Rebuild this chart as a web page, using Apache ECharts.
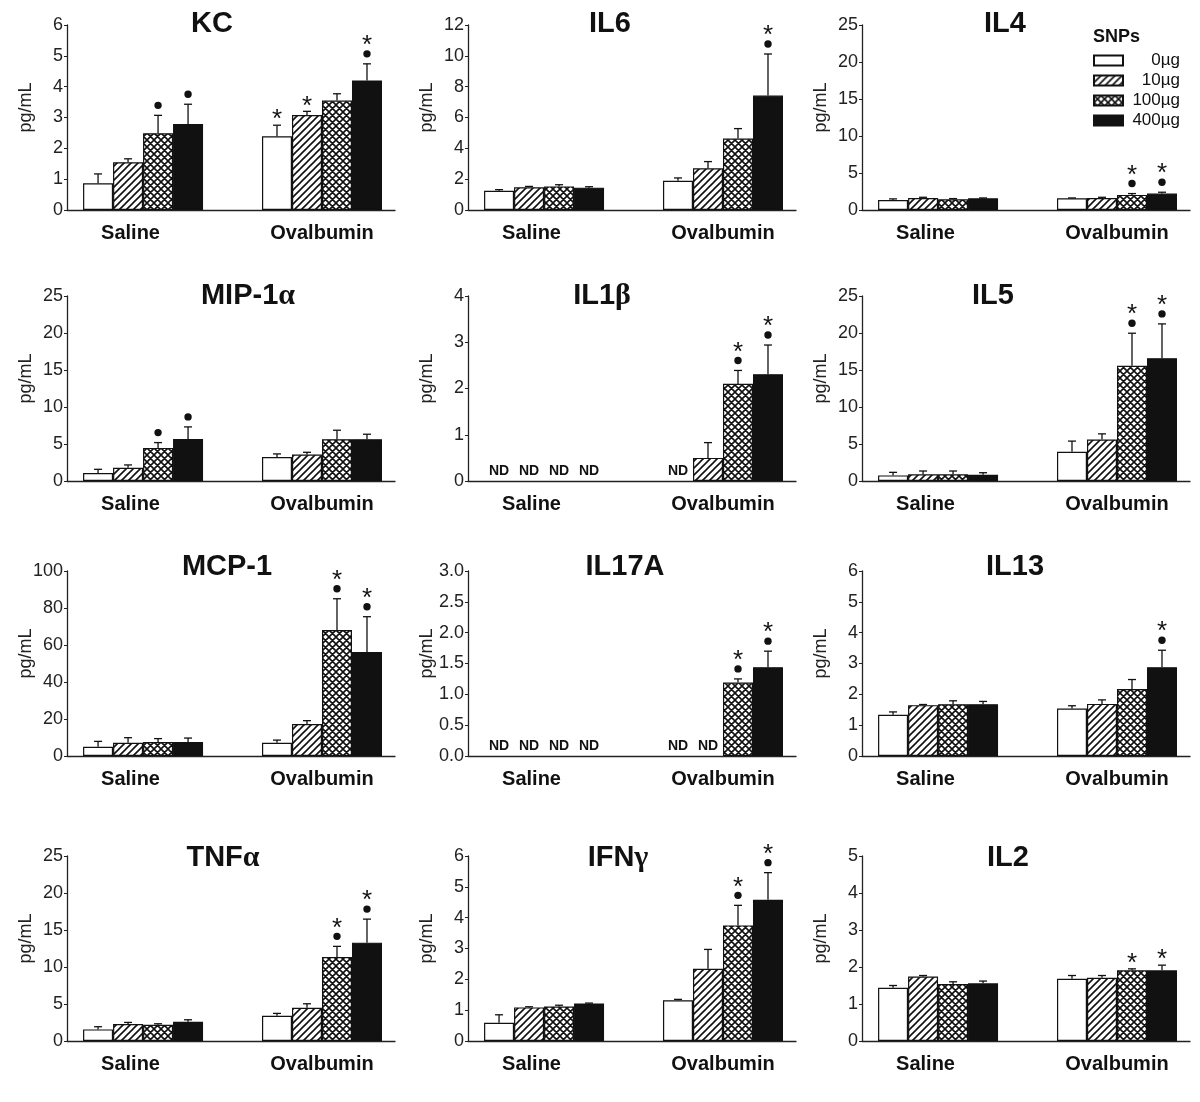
<!DOCTYPE html>
<html>
<head>
<meta charset="utf-8">
<script src="https://cdn.jsdelivr.net/npm/echarts@6/dist/echarts.min.js"></script>
<style>
  html, body { margin: 0; padding: 0; background: #fff; }
  #main { width: 1200px; height: 1102px; }
</style>
</head>
<body>
<div id="main"></div>
<script>
// ---------------- data ----------------
var groups = ['Saline', 'Ovalbumin'];
var doses = ['0µg', '10µg', '100µg', '400µg'];

var panelNames = ['KC', 'IL6', 'IL4', 'MIP-1α', 'IL1β', 'IL5', 'MCP-1', 'IL17A', 'IL13', 'TNFα', 'IFNγ', 'IL2'];
var yMax  = [6, 12, 25, 25, 4, 25, 100, 3, 6, 25, 6, 5];
var yStep = [1, 2, 5, 5, 1, 5, 20, 0.5, 1, 5, 1, 1];

// mean / SEM: saline 0,10,100,400 then ovalbumin 0,10,100,400 (null = ND)
// sig: 'd' = dot (vs saline), 's' = star (vs 0µg)
var kcMean = [0.87, 1.55, 2.49, 2.79, 2.39, 3.08, 3.55, 4.2];
var kcSem  = [0.3, 0.11, 0.58, 0.64, 0.36, 0.12, 0.22, 0.54];
var kcSig  = ['', '', 'd', 'd', 's', 's', '', 'ds'];

var il6Mean = [1.25, 1.47, 1.53, 1.45, 1.9, 2.7, 4.63, 7.42];
var il6Sem  = [0.07, 0.06, 0.11, 0.06, 0.18, 0.44, 0.65, 2.7];
var il6Sig  = ['', '', '', '', '', '', '', 'ds'];

var il4Mean = [1.36, 1.63, 1.45, 1.58, 1.58, 1.63, 2.04, 2.22];
var il4Sem  = [0.14, 0.09, 0.09, 0.05, 0.05, 0.09, 0.18, 0.18];
var il4Sig  = ['', '', '', '', '', '', 'ds', 'ds'];

var mipMean = [1.08, 1.8, 4.47, 5.69, 3.25, 3.57, 5.64, 5.64];
var mipSem  = [0.5, 0.37, 0.72, 1.62, 0.41, 0.31, 1.22, 0.68];
var mipSig  = ['', '', 'd', 'd', '', '', '', ''];

var il1bMean = [null, null, null, null, null, 0.5, 2.1, 2.31];
var il1bSem  = [0, 0, 0, 0, 0, 0.33, 0.29, 0.63];
var il1bSig  = ['', '', '', '', '', '', 'ds', 'ds'];

var il5Mean = [0.76, 0.9, 0.9, 0.85, 3.95, 5.61, 15.57, 16.6];
var il5Sem  = [0.41, 0.45, 0.45, 0.27, 1.44, 0.76, 4.4, 4.63];
var il5Sig  = ['', '', '', '', '', '', 'ds', 'ds'];

var mcpMean = [5.0, 7.2, 7.6, 7.6, 7.2, 17.3, 68.1, 56.2];
var mcpSem  = [2.9, 2.7, 1.8, 2.1, 1.4, 1.8, 16.9, 19.1];
var mcpSig  = ['', '', '', '', '', '', 'ds', 'ds'];

var il17Mean = [null, null, null, null, null, null, 1.19, 1.44];
var il17Sem  = [0, 0, 0, 0, 0, 0, 0.06, 0.26];
var il17Sig  = ['', '', '', '', '', '', 'ds', 'ds'];

var il13Mean = [1.34, 1.65, 1.68, 1.68, 1.54, 1.69, 2.17, 2.88];
var il13Sem  = [0.09, 0.02, 0.11, 0.09, 0.09, 0.13, 0.31, 0.55];
var il13Sig  = ['', '', '', '', '', '', '', 'ds'];

var tnfMean = [1.57, 2.29, 2.2, 2.6, 3.41, 4.49, 11.36, 13.29];
var tnfSem  = [0.36, 0.22, 0.13, 0.27, 0.32, 0.54, 1.43, 3.18];
var tnfSig  = ['', '', '', '', '', '', 'ds', 'ds'];

var ifnMean = [0.59, 1.09, 1.12, 1.22, 1.32, 2.34, 3.75, 4.58];
var ifnSem  = [0.26, 0.02, 0.04, 0.01, 0.03, 0.63, 0.65, 0.88];
var ifnSig  = ['', '', '', '', '', '', 'ds', 'ds'];

var il2Mean = [1.44, 1.74, 1.54, 1.56, 1.68, 1.71, 1.91, 1.91];
var il2Sem  = [0.06, 0.03, 0.06, 0.06, 0.09, 0.06, 0.04, 0.14];
var il2Sig  = ['', '', '', '', '', '', 's', 's'];

var panelMean = [kcMean, il6Mean, il4Mean, mipMean, il1bMean, il5Mean, mcpMean, il17Mean, il13Mean, tnfMean, ifnMean, il2Mean];
var panelSem  = [kcSem, il6Sem, il4Sem, mipSem, il1bSem, il5Sem, mcpSem, il17Sem, il13Sem, tnfSem, ifnSem, il2Sem];
var panelSig  = [kcSig, il6Sig, il4Sig, mipSig, il1bSig, il5Sig, mcpSig, il17Sig, il13Sig, tnfSig, ifnSig, il2Sig];

// ---------------- layout ----------------
var colLeft = [67, 468, 862];
var rowTop = [25, 296, 571, 856];
var plotW = 328, plotH = 185;
var titleCx = [207, 605, 1000, 243, 597, 988, 222, 620, 1010, 218, 613, 1003];
var titleCy = [19, 291, 562, 853];
var BAR_W = 30;
var FONT = '"Liberation Sans", Arial, sans-serif';
var INK = '#111';

// fill patterns
function hatchPattern() {
  var c = document.createElement('canvas');
  c.width = 7; c.height = 7;
  var g = c.getContext('2d');
  g.fillStyle = '#fff'; g.fillRect(0, 0, 7, 7);
  g.strokeStyle = INK; g.lineWidth = 1.6;
  g.beginPath();
  g.moveTo(-1, 8); g.lineTo(8, -1);
  g.moveTo(-1, 1); g.lineTo(1, -1);
  g.moveTo(6, 8); g.lineTo(8, 6);
  g.stroke();
  return c;
}
function crossPattern() {
  var s = 7;
  var c = document.createElement('canvas');
  c.width = s; c.height = s;
  var g = c.getContext('2d');
  g.fillStyle = '#fff'; g.fillRect(0, 0, s, s);
  g.strokeStyle = INK; g.lineWidth = 1.6;
  g.beginPath();
  g.moveTo(-1, s + 1); g.lineTo(s + 1, -1);
  g.moveTo(-1, 1); g.lineTo(1, -1);
  g.moveTo(s - 1, s + 1); g.lineTo(s + 1, s - 1);
  g.moveTo(-1, -1); g.lineTo(s + 1, s + 1);
  g.moveTo(-1, s - 1); g.lineTo(1, s + 1);
  g.moveTo(s - 1, -1); g.lineTo(s + 1, 1);
  g.stroke();
  return c;
}
var doseFill = [
  '#fff',
  { image: hatchPattern(), repeat: 'repeat' },
  { image: crossPattern(), repeat: 'repeat' },
  INK
];

function titleText(name) {
  var m = name.match(/^(.*?)([αβγ])$/);
  if (!m) return '{b|' + name + '}';
  return '{b|' + m[1] + '}{g|' + m[2] + '}';
}

// error bars, ND labels and significance marks
function marksRenderer(mean, sig) {
  return function (params, api) {
    var k = params.dataIndex;
    var off = (k % 4 - 1.5) * BAR_W;
    var base = api.coord([api.value(0), 0]);
    var x = base[0] + off;
    var kids = [];
    if (mean[k] == null) {
      kids.push({
        type: 'text',
        style: { text: 'ND', x: x, y: base[1] - 10, align: 'center', verticalAlign: 'middle',
                 font: 'bold 14px ' + FONT, fill: INK }
      });
      return { type: 'group', children: kids };
    }
    var yBar = api.coord([api.value(0), mean[k]])[1];
    var yTop = api.coord([api.value(0), api.value(1)])[1];
    var ls = { stroke: INK, lineWidth: 1.3 };
    kids.push({ type: 'line', shape: { x1: x, y1: yBar, x2: x, y2: yTop }, style: ls });
    kids.push({ type: 'line', shape: { x1: x - 4, y1: yTop, x2: x + 4, y2: yTop }, style: ls });
    var y = yTop - 10;
    if (sig[k].indexOf('d') >= 0) {
      kids.push({ type: 'circle', shape: { cx: x, cy: y, r: 3.7 }, style: { fill: INK } });
      y -= 13;
    }
    if (sig[k].indexOf('s') >= 0) {
      kids.push({
        type: 'text',
        style: { text: '*', x: x, y: y + 5, align: 'center', verticalAlign: 'middle',
                 font: '26px ' + FONT, fill: INK }
      });
    }
    return { type: 'group', children: kids };
  };
}

var grids = [], xAxes = [], yAxes = [], titles = [], series = [];

for (var i = 0; i < panelNames.length; i++) {
  var col = i % 3, row = Math.floor(i / 3);
  var mean = panelMean[i], sem = panelSem[i], sig = panelSig[i];

  grids.push({ left: colLeft[col], top: rowTop[row], width: plotW, height: plotH });

  xAxes.push({
    type: 'value', gridIndex: i, min: -0.425, max: 1.408,
    axisLine: { show: true, onZero: false, lineStyle: { color: '#222', width: 1.3 } },
    axisTick: { show: false },
    splitLine: { show: false },
    axisLabel: {
      customValues: [-0.07, 1.0],
      formatter: function (v) { return v < 0.5 ? groups[0] : groups[1]; },
      fontFamily: FONT, fontWeight: 'bold', fontSize: 20, color: INK, margin: 13
    }
  });

  yAxes.push({
    type: 'value', gridIndex: i, min: 0, max: yMax[i], interval: yStep[i],
    axisLine: { show: true, onZero: false, lineStyle: { color: '#222', width: 1.3 } },
    axisTick: { show: true, length: 3, lineStyle: { color: '#222' } },
    splitLine: { show: false },
    axisLabel: {
      fontFamily: FONT, fontSize: 18, color: '#222', margin: 4,
      formatter: yStep[i] < 1 ? function (v) { return v.toFixed(1); } : null
    },
    name: 'pg/mL', nameLocation: 'middle', nameGap: 32, nameMoveOverlap: false,
    nameTextStyle: { fontFamily: FONT, fontSize: 18, color: '#222', padding: [0, 0, 0, 20] }
  });

  titles.push({
    text: titleText(panelNames[i]),
    left: titleCx[i], top: titleCy[row] - 16, textAlign: 'center',
    textStyle: {
      rich: {
        b: { fontFamily: FONT, fontSize: 29, fontWeight: 'bold', color: INK, lineHeight: 32 },
        g: { fontFamily: '"Liberation Serif", serif', fontSize: 30, color: INK, lineHeight: 32 }
      }
    }
  });

  for (var d = 0; d < 4; d++) {
    var a = mean[d], b = mean[4 + d];
    series.push({
      type: 'bar', name: doses[d], xAxisIndex: i, yAxisIndex: i,
      barWidth: BAR_W, barGap: '0%',
      data: [[0, a == null ? '-' : a], [1, b == null ? '-' : b]],
      itemStyle: { color: doseFill[d], borderColor: INK, borderWidth: 1.2 },
      emphasis: { disabled: true }
    });
  }

  var tops = [];
  for (var k = 0; k < 8; k++) {
    tops.push([k < 4 ? 0 : 1, mean[k] == null ? 0 : mean[k] + sem[k]]);
  }
  series.push({
    type: 'custom', xAxisIndex: i, yAxisIndex: i, z: 5,
    renderItem: marksRenderer(mean, sig),
    data: tops
  });
}

titles.push({
  text: 'SNPs', left: 1088, top: 23,
  textStyle: { fontFamily: FONT, fontSize: 18, fontWeight: 'bold', color: INK }
});

var myChart = echarts.init(document.getElementById('main'), null, { renderer: 'canvas' });
myChart.setOption({
  backgroundColor: '#fff',
  animation: false,
  title: titles,
  legend: {
    data: doses, left: 1088, top: 47, orient: 'vertical',
    icon: 'rect', itemWidth: 29, itemHeight: 10, itemGap: 3,
    selectedMode: false,
    formatter: function (n) { return '{r|' + n + '}'; },
    textStyle: {
      fontFamily: FONT, fontSize: 17, color: INK,
      rich: { r: { fontFamily: FONT, fontSize: 17, color: INK, width: 52, align: 'right' } }
    }
  },
  grid: grids,
  xAxis: xAxes,
  yAxis: yAxes,
  series: series
});
</script>
</body>
</html>
